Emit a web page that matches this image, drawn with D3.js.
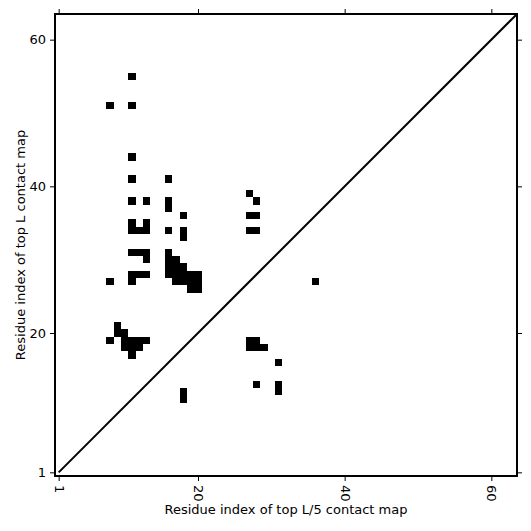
<!DOCTYPE html>
<html>
<head>
<meta charset="utf-8">
<script src="https://cdn.jsdelivr.net/npm/d3@7"></script>
<style>
  body { margin: 0; background: #fff; }
  text { font-family: "DejaVu Sans", sans-serif; }
</style>
</head>
<body>
<svg id="chart" width="531" height="531"></svg>
<script>
// protein length (axis range runs 0.5 .. L + 0.5)
var L = 63;
var tickValues = [1, 20, 40, 60];

// contacts : [i (top L/5 map), j (top L map)]
var contactsI = [11, 8, 11, 11, 11, 16,
                 11, 13, 16, 16, 18,
                 11, 13, 11, 12, 13, 16, 18, 18,
                 27, 28, 27, 28, 27, 28,
                 11, 12, 13, 16, 13,
                 16, 17, 16, 17, 18, 16, 17, 18, 19, 20, 17, 18, 19, 20, 19, 20,
                 11, 12, 13, 8, 11,
                 36,
                 9, 9, 10, 8, 10, 11, 12, 13, 10, 11, 12, 11,
                 27, 28, 27, 28, 29, 31, 28, 31, 31, 18, 18];
var contactsJ = [55, 51, 51, 44, 41, 41,
                 38, 38, 38, 37, 36,
                 35, 35, 34, 34, 34, 34, 34, 33,
                 39, 38, 36, 36, 34, 34,
                 31, 31, 31, 31, 30,
                 30, 30, 29, 29, 29, 28, 28, 28, 28, 28, 27, 27, 27, 27, 26, 26,
                 28, 28, 28, 27, 27,
                 27,
                 21, 20, 20, 19, 19, 19, 19, 19, 18, 18, 18, 17,
                 19, 19, 18, 18, 18, 16, 13, 13, 12, 12, 11];

var contacts = contactsI.map(function(d, k){ return {i: d, j: contactsJ[k]}; });

var svg = d3.select("#chart");
var plotLeft = 55, plotTop = 14, size = 462;

var x = d3.scaleLinear().domain([0.5, L + 0.5]).range([plotLeft, plotLeft + size]);
var y = d3.scaleLinear().domain([0.5, L + 0.5]).range([plotTop + size, plotTop]);
var cell = x(2) - x(1);

svg.append("clipPath").attr("id", "clip")
   .append("rect").attr("x", plotLeft).attr("y", plotTop).attr("width", size).attr("height", size);

var plot = svg.append("g").attr("clip-path", "url(#clip)");

// cells
plot.selectAll("rect.cell")
    .data(contacts)
    .enter()
    .append("rect")
    .attr("class", "cell")
    .attr("x", function(d){ return x(d.i - 0.5); })
    .attr("y", function(d){ return y(d.j + 0.5); })
    .attr("width", cell)
    .attr("height", cell)
    .attr("fill", "#000")
    .attr("shape-rendering", "crispEdges");

// diagonal
plot.append("line")
    .attr("x1", x(1)).attr("y1", y(1))
    .attr("x2", x(L + 1)).attr("y2", y(L + 1))
    .attr("stroke", "#000")
    .attr("stroke-width", 2);

// axes
var xBottom = svg.append("g")
    .attr("transform", "translate(0," + (plotTop + size) + ")")
    .call(d3.axisBottom(x).tickValues(tickValues).tickSize(5).tickPadding(4));
xBottom.selectAll("text")
    .attr("transform", "rotate(90)")
    .attr("text-anchor", "start")
    .attr("x", 9).attr("y", 0).attr("dy", "0.35em");

svg.append("g")
    .attr("transform", "translate(" + plotLeft + ",0)")
    .call(d3.axisLeft(y).tickValues(tickValues).tickSize(5).tickPadding(4));

svg.append("g")
    .attr("transform", "translate(0," + plotTop + ")")
    .call(d3.axisTop(x).tickValues(tickValues).tickSize(5).tickFormat(""));

svg.append("g")
    .attr("transform", "translate(" + (plotLeft + size) + ",0)")
    .call(d3.axisRight(y).tickValues(tickValues).tickSize(5).tickFormat(""));

svg.selectAll(".domain").remove();
svg.selectAll(".tick text").attr("font-size", 13).attr("fill", "#000").style("font-family", "DejaVu Sans");
svg.selectAll(".tick line").attr("stroke", "#000");

// frame
svg.append("rect")
   .attr("x", plotLeft).attr("y", plotTop).attr("width", size).attr("height", size)
   .attr("fill", "none").attr("stroke", "#000").attr("stroke-width", 2);

// labels
svg.append("text")
   .attr("x", plotLeft + size / 2).attr("y", 514)
   .attr("text-anchor", "middle").attr("font-size", 13)
   .text("Residue index of top L/5 contact map");

svg.append("text")
   .attr("transform", "translate(25," + (plotTop + size / 2) + ") rotate(-90)")
   .attr("text-anchor", "middle").attr("font-size", 13)
   .text("Residue index of top L contact map");
</script>
</body>
</html>
